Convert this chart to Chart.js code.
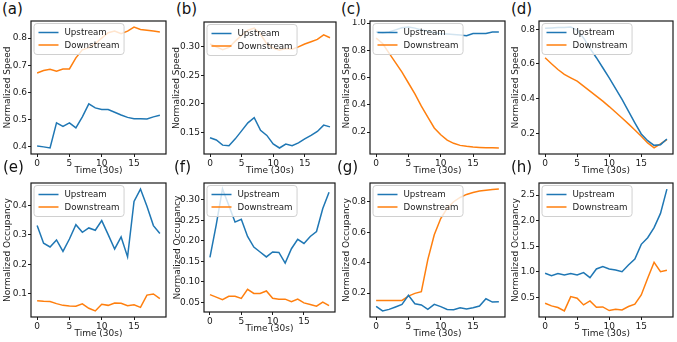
<!DOCTYPE html>
<html>
<head>
<meta charset="utf-8">
<script src="https://cdn.jsdelivr.net/npm/chart.js@4.4.1/dist/chart.umd.min.js"></script>
<style>
  body { margin: 0; background: #fff; width: 677px; height: 342px; position: relative; overflow: hidden; }
  canvas { position: absolute; }
  .tag { position: absolute; font-family: 'DejaVu Sans', sans-serif; font-size: 15px; line-height: 1; color: #111; z-index: 5; }
</style>
</head>
<body>
<script>
// time axis
const timeSteps = [0, 1, 2, 3, 4, 5, 6, 7, 8, 9, 10, 11, 12, 13, 14, 15, 16, 17, 18, 19];
const xTicks = [0, 5, 10, 15];
const seriesNames = ['Upstream', 'Downstream'];

// (a) speed
const upA = [0.401, 0.398, 0.394, 0.487, 0.474, 0.487, 0.468, 0.509, 0.557, 0.542, 0.536, 0.536, 0.526, 0.516, 0.507, 0.502, 0.502, 0.501, 0.509, 0.515];
const downA = [0.671, 0.680, 0.685, 0.678, 0.686, 0.686, 0.727, 0.757, 0.765, 0.780, 0.800, 0.820, 0.826, 0.816, 0.826, 0.841, 0.832, 0.829, 0.826, 0.823];
const yTicksA = [0.4, 0.5, 0.6, 0.7, 0.8];

// (b) speed
const upB = [0.141, 0.137, 0.128, 0.127, 0.139, 0.153, 0.167, 0.176, 0.154, 0.145, 0.130, 0.123, 0.130, 0.127, 0.132, 0.139, 0.145, 0.152, 0.163, 0.160];
const downB = [0.305, 0.300, 0.295, 0.299, 0.310, 0.320, 0.329, 0.333, 0.322, 0.305, 0.298, 0.294, 0.297, 0.296, 0.300, 0.305, 0.309, 0.313, 0.321, 0.316];
const yTicksB = [0.15, 0.20, 0.25, 0.30];

// (c) speed
const upC = [0.934, 0.927, 0.934, 0.950, 0.966, 0.971, 0.963, 0.950, 0.940, 0.930, 0.922, 0.920, 0.917, 0.912, 0.907, 0.924, 0.924, 0.924, 0.934, 0.934];
const downC = [0.890, 0.850, 0.780, 0.710, 0.640, 0.560, 0.480, 0.390, 0.310, 0.230, 0.180, 0.140, 0.117, 0.102, 0.095, 0.090, 0.087, 0.085, 0.085, 0.083];
const yTicksC = [0.2, 0.4, 0.6, 0.8, 1.0];

// (d) speed
const upD = [0.806, 0.808, 0.810, 0.810, 0.813, 0.795, 0.750, 0.690, 0.636, 0.578, 0.520, 0.458, 0.395, 0.327, 0.260, 0.196, 0.157, 0.130, 0.134, 0.167];
const downD = [0.636, 0.601, 0.568, 0.540, 0.520, 0.501, 0.472, 0.443, 0.414, 0.385, 0.354, 0.321, 0.288, 0.254, 0.219, 0.183, 0.144, 0.115, 0.138, 0.163];
const yTicksD = [0.2, 0.4, 0.6, 0.8];

// (e) occupancy
const upE = [0.332, 0.272, 0.259, 0.283, 0.244, 0.286, 0.335, 0.309, 0.324, 0.316, 0.349, 0.301, 0.252, 0.293, 0.225, 0.415, 0.457, 0.398, 0.332, 0.305];
const downE = [0.075, 0.073, 0.072, 0.065, 0.059, 0.057, 0.056, 0.064, 0.049, 0.040, 0.063, 0.059, 0.067, 0.066, 0.058, 0.061, 0.052, 0.094, 0.098, 0.082];
const yTicksE = [0.1, 0.2, 0.3, 0.4];

// (f) occupancy
const upF = [0.160, 0.239, 0.327, 0.287, 0.246, 0.253, 0.211, 0.185, 0.173, 0.161, 0.173, 0.172, 0.146, 0.181, 0.204, 0.194, 0.211, 0.223, 0.279, 0.319];
const downF = [0.069, 0.063, 0.057, 0.065, 0.065, 0.060, 0.082, 0.072, 0.072, 0.078, 0.060, 0.058, 0.058, 0.052, 0.058, 0.049, 0.045, 0.041, 0.051, 0.042];
const yTicksF = [0.05, 0.10, 0.15, 0.20, 0.25, 0.30];

// (g) occupancy
const upG = [0.113, 0.083, 0.093, 0.109, 0.126, 0.185, 0.130, 0.122, 0.093, 0.126, 0.111, 0.093, 0.091, 0.104, 0.096, 0.104, 0.115, 0.163, 0.141, 0.143];
const downG = [0.152, 0.152, 0.152, 0.152, 0.152, 0.180, 0.198, 0.209, 0.420, 0.583, 0.690, 0.757, 0.800, 0.828, 0.848, 0.861, 0.870, 0.876, 0.880, 0.883];
const yTicksG = [0.2, 0.4, 0.6, 0.8];

// (h) occupancy
const upH = [0.974, 0.929, 0.968, 0.942, 0.968, 0.942, 0.987, 0.890, 1.058, 1.104, 1.058, 1.039, 1.006, 1.136, 1.253, 1.539, 1.669, 1.864, 2.143, 2.617];
const downH = [0.390, 0.338, 0.305, 0.240, 0.519, 0.487, 0.357, 0.435, 0.312, 0.318, 0.247, 0.273, 0.260, 0.325, 0.370, 0.552, 0.877, 1.188, 1.006, 1.032];
const yTicksH = [0.5, 1.0, 1.5, 2.0, 2.5];

const BLUE = '#1f77b4';
const ORANGE = '#ff7f0e';
const INK = '#1a1a1a';

Chart.defaults.font.family = "'DejaVu Sans', sans-serif";
Chart.defaults.font.size = 9;
Chart.defaults.color = INK;

// plot boxes (left, top, right, bottom)
const panels = [
  { tag: '(a)', tx: 2,   ty: 2,   up: upA, down: downA, ticks: yTicksA, dec: 1, title: 'Normalized Speed',     box: [31, 21, 166, 154], yw: 29 },
  { tag: '(b)', tx: 176, ty: 2,   up: upB, down: downB, ticks: yTicksB, dec: 2, title: 'Normalized Speed',     box: [204, 22, 336, 154], yw: 33 },
  { tag: '(c)', tx: 341, ty: 2,   up: upC, down: downC, ticks: yTicksC, dec: 1, title: 'Normalized Speed',     box: [370, 21, 505, 154], yw: 29 },
  { tag: '(d)', tx: 511, ty: 2,   up: upD, down: downD, ticks: yTicksD, dec: 1, title: 'Normalized Speed',     box: [539, 21, 673, 154], yw: 29 },
  { tag: '(e)', tx: 3,   ty: 160, up: upE, down: downE, ticks: yTicksE, dec: 1, title: 'Normalized Occupancy', box: [31, 183, 166, 317], yw: 29 },
  { tag: '(f)', tx: 174, ty: 160, up: upF, down: downF, ticks: yTicksF, dec: 2, title: 'Normalized Occupancy', box: [204, 183, 335, 312], yw: 32 },
  { tag: '(g)', tx: 337, ty: 160, up: upG, down: downG, ticks: yTicksG, dec: 1, title: 'Normalized Occupancy', box: [370, 183, 505, 317], yw: 29 },
  { tag: '(h)', tx: 511, ty: 160, up: upH, down: downH, ticks: yTicksH, dec: 1, title: 'Normalized Occupancy', box: [539, 183, 673, 317], yw: 29 }
];

const X_AXIS_H = 22;

// legend inside the axes + the black frame, drawn over the lines
const framePlugin = {
  id: 'frame',
  afterDatasetsDraw(chart) {
    const { ctx, chartArea: a } = chart;
    ctx.save();
    ctx.font = "8.7px 'DejaVu Sans', sans-serif";
    const lx = a.left + 2.5, ly = a.top + 2;
    const lw = 31 + ctx.measureText('Downstream').width + 4, lh = 31;
    ctx.beginPath();
    ctx.roundRect(lx + 0.5, ly + 0.5, lw, lh, 3);
    ctx.fillStyle = 'rgba(255,255,255,0.8)';
    ctx.fill();
    ctx.strokeStyle = '#d0d0d0';
    ctx.lineWidth = 1;
    ctx.stroke();
    [BLUE, ORANGE].forEach((c, i) => {
      const yy = ly + 9.5 + i * 12.5;
      ctx.beginPath();
      ctx.moveTo(lx + 5, yy);
      ctx.lineTo(lx + 25, yy);
      ctx.strokeStyle = c;
      ctx.lineWidth = 1.5;
      ctx.stroke();
      ctx.fillStyle = INK;
      ctx.textBaseline = 'middle';
      ctx.fillText(seriesNames[i], lx + 31, yy + 0.5);
    });
    ctx.strokeStyle = INK;
    ctx.lineWidth = 1.2;
    ctx.strokeRect(a.left, a.top, a.right - a.left, a.bottom - a.top);
    ctx.restore();
  }
};

panels.forEach(function (p) {
  const [l, t, r, b] = p.box;
  const cv = document.createElement('canvas');
  const left = l - p.yw - 1, top = t - 2;
  cv.width = r + 2 - left;
  cv.height = b + X_AXIS_H - top;
  cv.style.left = left + 'px';
  cv.style.top = top + 'px';
  document.body.appendChild(cv);

  const tag = document.createElement('div');
  tag.className = 'tag';
  tag.textContent = p.tag;
  tag.style.left = p.tx + 'px';
  tag.style.top = p.ty + 'px';
  document.body.appendChild(tag);

  const all = p.up.concat(p.down);
  const lo = Math.min.apply(null, all), hi = Math.max.apply(null, all);
  const m = (hi - lo) * 0.05;

  new Chart(cv, {
    type: 'line',
    data: {
      datasets: [
        { label: seriesNames[0], data: timeSteps.map((x, i) => ({ x: x, y: p.up[i] })), borderColor: BLUE },
        { label: seriesNames[1], data: timeSteps.map((x, i) => ({ x: x, y: p.down[i] })), borderColor: ORANGE }
      ]
    },
    options: {
      responsive: false,
      animation: false,
      devicePixelRatio: 1,
      elements: { line: { borderWidth: 1.5, tension: 0 }, point: { radius: 0 } },
      layout: { padding: { left: 1, top: 2, right: 2, bottom: 0 } },
      plugins: { legend: { display: false }, tooltip: { enabled: false } },
      scales: {
        x: {
          type: 'linear',
          min: -0.95,
          max: 19.95,
          afterBuildTicks: s => { s.ticks = xTicks.map(v => ({ value: v })); },
          afterFit: s => { s.height = X_AXIS_H; s.paddingLeft = 0; s.paddingRight = 0; },
          grid: { drawOnChartArea: false, tickLength: 3, tickColor: INK, color: INK },
          border: { display: false },
          ticks: { padding: 1, maxRotation: 0, color: INK },
          title: { display: true, text: 'Time (30s)', padding: 0, color: INK, font: { size: 9 } }
        },
        y: {
          min: lo - m,
          max: hi + m,
          afterBuildTicks: s => { s.ticks = p.ticks.map(v => ({ value: v })); },
          afterFit: s => { s.width = p.yw; s.paddingTop = 0; s.paddingBottom = 0; },
          grid: { drawOnChartArea: false, tickLength: 3, tickColor: INK, color: INK },
          border: { display: false },
          ticks: { padding: 1, color: INK, callback: v => Number(v).toFixed(p.dec) },
          title: { display: true, text: p.title, padding: 0, color: INK, font: { size: 9 } }
        }
      }
    },
    plugins: [framePlugin]
  });
});
</script>
</body>
</html>
